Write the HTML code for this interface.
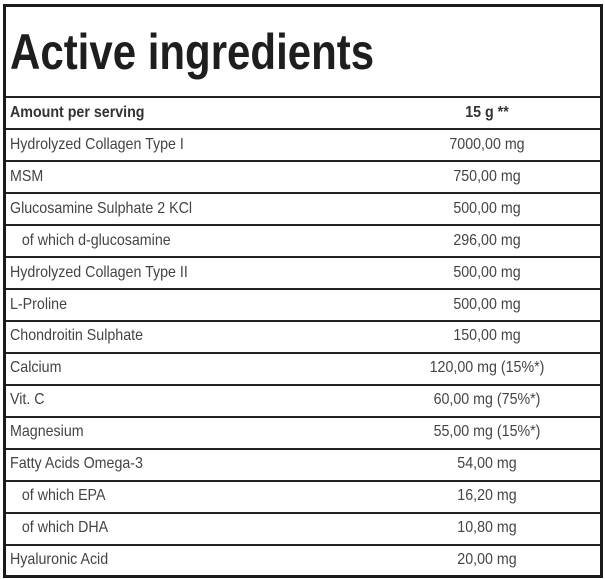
<!DOCTYPE html>
<html><head><style>
body{margin:0;width:605px;height:579px;background:#fff;position:relative;overflow:hidden;font-family:"Liberation Sans",sans-serif}
.box{position:absolute;left:3px;top:4px;width:594px;height:568px;border:3px solid #1a1a1a}
.t{position:absolute;left:10px;top:22px;font-size:50px;font-weight:bold;color:#1e1e1e;transform:scaleX(0.84);transform-origin:left top;white-space:nowrap;line-height:60px}
.l{position:absolute;left:6px;width:594px;height:2px;background:#222}
.n,.v{position:absolute;font-size:16px;color:#444;white-space:nowrap;line-height:18px}
.n{left:10px;transform:scaleX(0.89);transform-origin:left center}
.v{left:387px;width:200px;text-align:center;transform:scaleX(0.89);transform-origin:center center}
.b{font-weight:bold;color:#333}
</style></head><body>
<div class="box"></div>
<div class="t">Active ingredients</div>
<div class="l" style="top:96px"></div>
<div class="l" style="top:128px"></div><div class="l" style="top:160px"></div><div class="l" style="top:192px"></div><div class="l" style="top:224px"></div><div class="l" style="top:256px"></div><div class="l" style="top:288px"></div><div class="l" style="top:320px"></div><div class="l" style="top:352px"></div><div class="l" style="top:384px"></div><div class="l" style="top:416px"></div><div class="l" style="top:448px"></div><div class="l" style="top:480px"></div><div class="l" style="top:512px"></div><div class="l" style="top:544px"></div>
<div class="n b" style="top:104px">Amount per serving</div><div class="v b" style="top:104px">15 g **</div>
<div class="n" style="top:136px">Hydrolyzed Collagen Type I</div><div class="v" style="top:136px">7000,00 mg</div>
<div class="n" style="top:168px">MSM</div><div class="v" style="top:168px">750,00 mg</div>
<div class="n" style="top:200px">Glucosamine Sulphate 2 KCl</div><div class="v" style="top:200px">500,00 mg</div>
<div class="n" style="top:232px">&nbsp;&nbsp;&nbsp;of which d-glucosamine</div><div class="v" style="top:232px">296,00 mg</div>
<div class="n" style="top:264px">Hydrolyzed Collagen Type II</div><div class="v" style="top:264px">500,00 mg</div>
<div class="n" style="top:296px">L-Proline</div><div class="v" style="top:296px">500,00 mg</div>
<div class="n" style="top:327px">Chondroitin Sulphate</div><div class="v" style="top:327px">150,00 mg</div>
<div class="n" style="top:359px">Calcium</div><div class="v" style="top:359px">120,00 mg (15%*)</div>
<div class="n" style="top:391px">Vit. C</div><div class="v" style="top:391px">60,00 mg (75%*)</div>
<div class="n" style="top:423px">Magnesium</div><div class="v" style="top:423px">55,00 mg (15%*)</div>
<div class="n" style="top:455px">Fatty Acids Omega-3</div><div class="v" style="top:455px">54,00 mg</div>
<div class="n" style="top:487px">&nbsp;&nbsp;&nbsp;of which EPA</div><div class="v" style="top:487px">16,20 mg</div>
<div class="n" style="top:519px">&nbsp;&nbsp;&nbsp;of which DHA</div><div class="v" style="top:519px">10,80 mg</div>
<div class="n" style="top:551px">Hyaluronic Acid</div><div class="v" style="top:551px">20,00 mg</div>
</body></html>
